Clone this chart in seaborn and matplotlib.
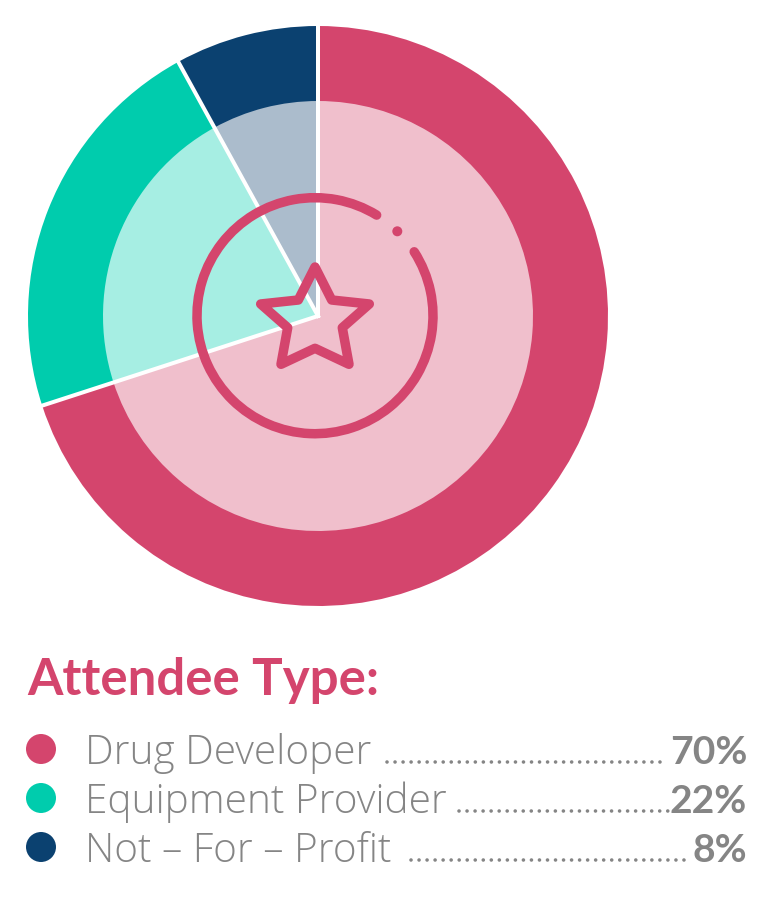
import numpy as np
import matplotlib
matplotlib.use("Agg")
import matplotlib.pyplot as plt
from matplotlib.patches import Arc, Polygon, Circle
import seaborn as sns

# --- Data ---
categories = ['Drug Developer', 'Equipment Provider', 'Not – For – Profit']
shares = [70, 22, 8]
share_labels = ['70%', '22%', '8%']
title_text = 'Attendee Type:'

# --- Colours ---
colors = ['#D4456D', '#00CCAD', '#0B4170']
pale_colors = ['#F0BFCC', '#A6EEE3', '#ABBCCC']
gray = '#858585'

W, H = 780, 902
CX, CY = 318, H - 316
FONT = 'Lato'
LABEL_FONT = 'Open Sans'


def px(v):
    # pixel length to points at dpi 100
    return v * 0.72


sns.set_theme(style="white")
plt.rcParams['font.family'] = [FONT, 'DejaVu Sans']

fig = plt.figure(figsize=(W / 100, H / 100), dpi=100)
ax = fig.add_axes([0, 0, 1, 1])

# --- Donut: outer and pale inner pie ---
ax.pie(shares, colors=colors, radius=290, center=(CX, CY),
       startangle=90, counterclock=False, wedgeprops={'linewidth': 0})
ax.pie(shares, colors=pale_colors, radius=215, center=(CX, CY),
       startangle=90, counterclock=False, wedgeprops={'linewidth': 0})

# white separators follow the wedge boundaries
for edge in np.cumsum([0] + shares[:-1]):
    a = np.deg2rad(90 - 3.6 * edge)
    ax.plot([CX, CX + 292 * np.cos(a)], [CY, CY + 292 * np.sin(a)],
            color='white', lw=px(4), solid_capstyle='projecting', zorder=5)

# --- Star icon ---
star = [(315, 267), (331.7, 300), (369.3, 304), (342.3, 327.7), (349, 364.3),
        (315, 348.3), (281, 364.3), (287.7, 327.7), (260.7, 304), (298.3, 300)]
ax.add_patch(Polygon([(x, H - y) for x, y in star], closed=True, fill=False,
                     edgecolor=colors[0], lw=px(9.5), joinstyle='round', zorder=6))
ax.add_patch(Arc((315, H - 315.7), 236, 236, theta1=58.5, theta2=392.8,
                 color=colors[0], lw=px(9.5), capstyle='round', zorder=6))
ax.add_patch(Circle((397.3, H - 231.3), 5, color=colors[0], lw=0, zorder=6))

# --- Legend block ---
ax.text(27, H - 695, title_text, color=colors[0], fontsize=px(51),
        fontweight='bold', family=FONT, va='baseline', ha='left')

row_y = [H - 749, H - 798, H - 847]
sns.scatterplot(x=[41, 41, 41], y=row_y, hue=categories, palette=colors,
                s=px(30) ** 2, linewidth=0, legend=False, ax=ax, zorder=6)

dots_x = [(387, 667), (459, 675), (411, 691)]
for name, label, y, (x0, x1) in zip(categories, share_labels, row_y, dots_x):
    ax.text(85, y - 15, name, color=gray, fontsize=px(40.5), fontweight='light',
            family=LABEL_FONT, va='baseline', ha='left')
    ax.text(747, y - 15, label, color=gray, fontsize=px(39), fontweight='bold',
            family=FONT, va='baseline', ha='right')
    ax.plot([x0, x1], [y - 13, y - 13], color=gray, lw=px(3.6),
            linestyle=(0, (0.01, 2.22)), dash_capstyle='round')

ax.set_xlim(0, W)
ax.set_ylim(0, H)
ax.set_aspect('equal')
ax.axis('off')

fig.savefig('out.png', dpi=100, facecolor='white')
